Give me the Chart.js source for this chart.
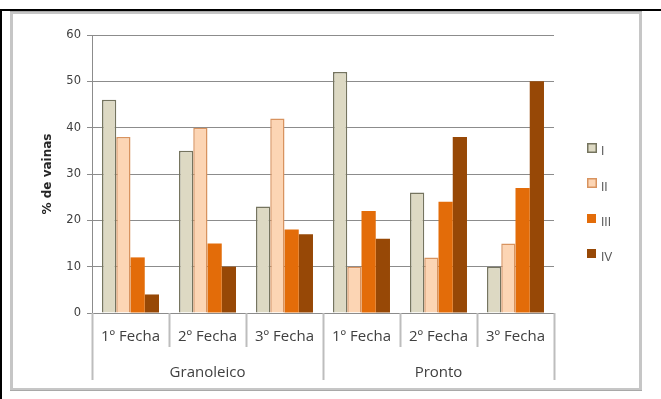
<!DOCTYPE html>
<html>
<head>
<meta charset="utf-8">
<script src="https://cdn.jsdelivr.net/npm/chart.js@4.4.1/dist/chart.umd.min.js"></script>
<style>
  html, body { margin: 0; padding: 0; background: #fff; }
  #wrap { position: relative; width: 661px; height: 399px; }
</style>
</head>
<body>
<div id="wrap"><canvas id="c" width="661" height="399"></canvas></div>
<script>
// Sowing dates and varieties
const fechas = ['1º Fecha', '2º Fecha', '3º Fecha', '1º Fecha', '2º Fecha', '3º Fecha'];
const variedades = ['Granoleico', 'Pronto'];
const seriesNames = ['I', 'II', 'III', 'IV'];

// % de vainas per class
const serieI   = [46, 35, 23, 52, 26, 10];
const serieII  = [38, 40, 42, 10, 12, 15];
const serieIII = [12, 15, 18, 22, 24, 27];
const serieIV  = [4, 10, 17, 16, 38, 50];

const yTicks = [0, 10, 20, 30, 40, 50, 60];

const fills   = ['#DDD9C3', '#FCD5B4', '#E36C09', '#974806'];
const borders = ['#75745f', '#d8935f', '#E36C09', '#974806'];
const borderW = [1.5, 1.5, 0, 0];

const values = [serieI, serieII, serieIII, serieIV];

// Page frame drawn behind the chart
const framePlugin = {
  id: 'frame',
  beforeDraw(chart) {
    const ctx = chart.ctx;
    ctx.save();
    ctx.fillStyle = '#ffffff';
    ctx.fillRect(0, 0, chart.width, chart.height);
    // black outer rule
    ctx.fillStyle = '#000000';
    ctx.fillRect(0, 9, chart.width, 2);
    ctx.fillRect(0, 9, 2, chart.height - 9);
    // grey inner box
    ctx.strokeStyle = '#c6c6c6';
    ctx.lineWidth = 3;
    ctx.strokeRect(11.5, 12.5, 629, 377);
    ctx.strokeStyle = '#a9a9a9';
    ctx.lineWidth = 1;
    ctx.beginPath();
    ctx.moveTo(10, 11.5); ctx.lineTo(642, 11.5);
    ctx.moveTo(10, 390.5); ctx.lineTo(642, 390.5);
    ctx.stroke();
    ctx.restore();
  }
};

// Category / group separators under the x axis
const separatorPlugin = {
  id: 'separators',
  afterDraw(chart) {
    const xs = chart.scales.x;
    const x2 = chart.scales.x2;
    const n = fechas.length;
    const step = (xs.right - xs.left) / n;
    const perGroup = n / variedades.length;
    const ctx = chart.ctx;
    ctx.save();
    ctx.strokeStyle = '#bdbdbd';
    ctx.lineWidth = 2;
    for (let i = 0; i <= n; i++) {
      const x = Math.round(xs.getPixelForValue(0) - step / 2 + i * step) + 0.5;
      const bottom = (i % perGroup === 0) ? x2.bottom : xs.bottom;
      ctx.beginPath();
      ctx.moveTo(x, xs.top);
      ctx.lineTo(x, bottom);
      ctx.stroke();
    }
    ctx.restore();
  }
};

// Legend on the right, built from the datasets
const sideLegend = {
  id: 'sideLegend',
  afterDraw(chart) {
    const ctx = chart.ctx;
    ctx.save();
    ctx.font = '12px "Liberation Sans", Arial, sans-serif';
    ctx.textBaseline = 'middle';
    ctx.textAlign = 'left';
    chart.data.datasets.forEach((ds, i) => {
      const cy = 148 + i * 35.3;
      const size = ds.borderWidth > 0 ? 10 : 9;
      const bx = 587, by = Math.round(cy - size / 2);
      ctx.fillStyle = ds.backgroundColor;
      ctx.fillRect(bx, by, size, size);
      if (ds.borderWidth > 0) {
        ctx.strokeStyle = ds.borderColor;
        ctx.lineWidth = 1.5;
        ctx.strokeRect(bx + 0.75, by + 0.75, size - 1.5, size - 1.5);
      }
      ctx.fillStyle = '#595959';
      ctx.fillText(ds.label, 601, cy + 4);
    });
    ctx.restore();
  }
};

new Chart(document.getElementById('c'), {
  type: 'bar',
  data: {
    labels: fechas,
    datasets: seriesNames.map((name, i) => ({
      label: name,
      data: values[i],
      backgroundColor: fills[i],
      borderColor: borders[i],
      borderWidth: borderW[i],
      borderSkipped: 'bottom',
      categoryPercentage: 0.74,
      barPercentage: 1.0,
      xAxisID: 'x'
    }))
  },
  options: {
    responsive: false,
    animation: false,
    events: [],
    layout: { padding: { left: 37, top: 35, right: 107, bottom: 19 } },
    plugins: {
      legend: { display: false },
      tooltip: { enabled: false }
    },
    scales: {
      x: {
        type: 'category',
        position: 'bottom',
        offset: true,
        grid: { display: false, drawTicks: false },
        border: { display: true, color: '#8c8c8c', width: 1 },
        ticks: {
          padding: 15,
          maxRotation: 0,
          autoSkip: false,
          color: '#404040',
          font: { family: '"Open Sans", sans-serif', size: 15 }
        },
        afterFit(s) { s.height = 34; }
      },
      x2: {
        type: 'category',
        position: 'bottom',
        labels: variedades,
        offset: true,
        grid: { display: false, drawTicks: false },
        border: { display: false },
        ticks: {
          padding: 17,
          maxRotation: 0,
          autoSkip: false,
          color: '#404040',
          font: { family: '"Open Sans", sans-serif', size: 15 }
        },
        afterFit(s) { s.height = 33; }
      },
      y: {
        min: 0,
        max: 60,
        afterBuildTicks(s) { s.ticks = yTicks.map(v => ({ value: v })); },
        grid: { color: '#8c8c8c', lineWidth: 1, tickLength: 5, drawTicks: true },
        border: { display: true, color: '#8c8c8c', width: 1 },
        ticks: {
          padding: 6,
          color: '#404040',
          font: { family: '"DejaVu Sans", sans-serif', size: 11.5 }
        },
        title: {
          display: true,
          text: '% de vainas',
          color: '#262626',
          font: { family: '"DejaVu Sans", sans-serif', size: 12, weight: 'bold' }
        },
        afterFit(s) { s.width = 55; }
      }
    }
  },
  plugins: [framePlugin, separatorPlugin, sideLegend]
});
</script>
</body>
</html>
